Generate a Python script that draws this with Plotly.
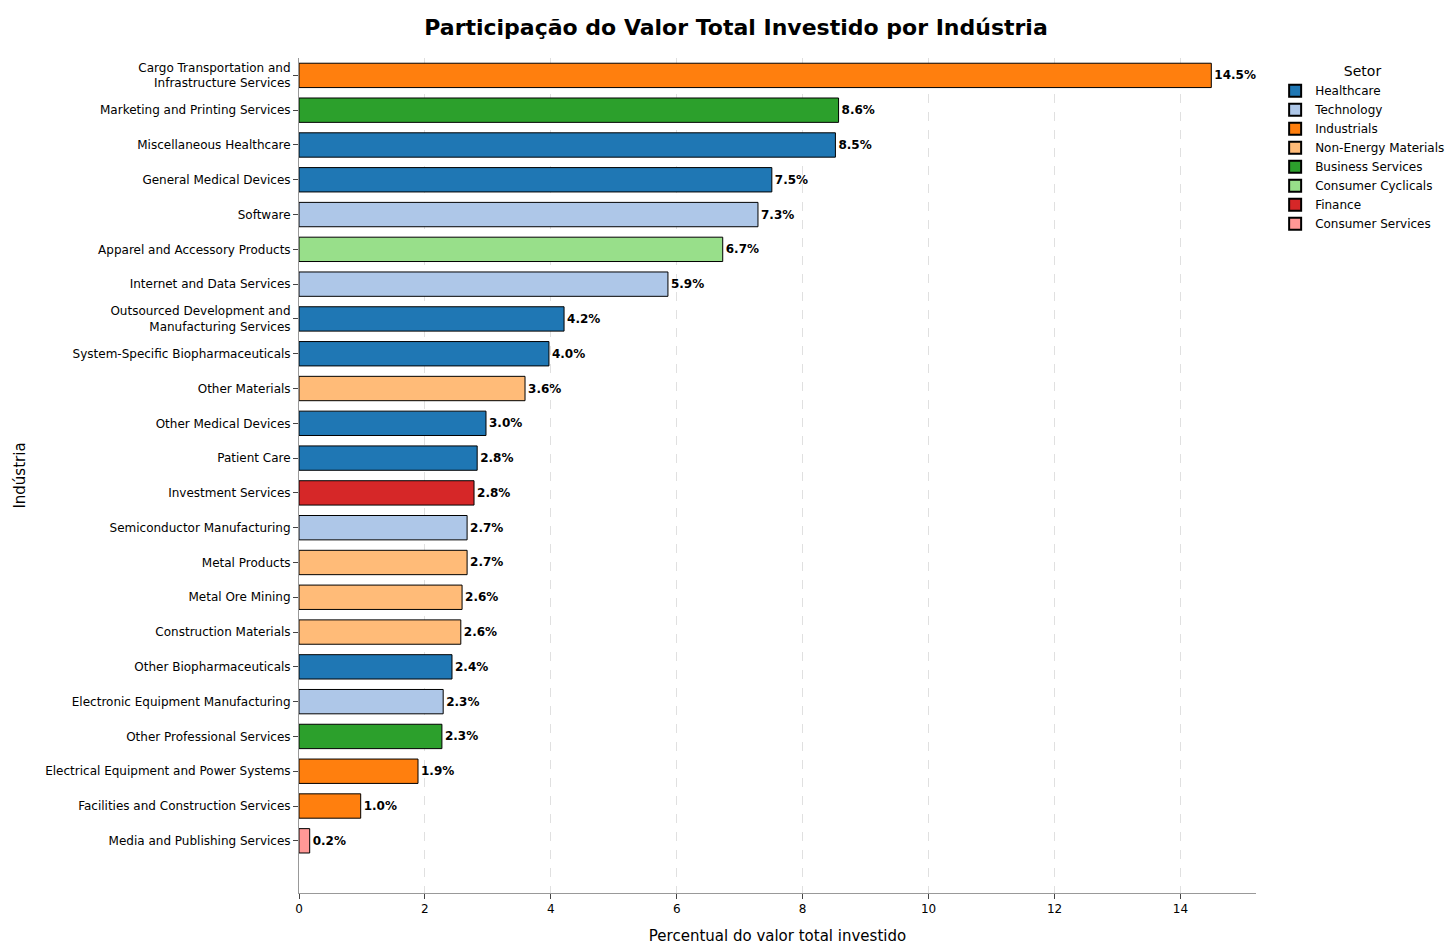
import plotly.graph_objects as go

industries = ["Cargo Transportation and<br>Infrastructure Services","Marketing and Printing Services","Miscellaneous Healthcare",
"General Medical Devices","Software","Apparel and Accessory Products","Internet and Data Services",
"Outsourced Development and<br>Manufacturing Services","System-Specific Biopharmaceuticals","Other Materials",
"Other Medical Devices","Patient Care","Investment Services","Semiconductor Manufacturing","Metal Products",
"Metal Ore Mining","Construction Materials","Other Biopharmaceuticals","Electronic Equipment Manufacturing",
"Other Professional Services","Electrical Equipment and Power Systems","Facilities and Construction Services",
"Media and Publishing Services"]
values = [14.49,8.57,8.52,7.51,7.29,6.73,5.86,4.21,3.97,3.59,2.97,2.83,2.78,2.67,2.67,2.59,2.57,2.43,2.29,2.27,1.89,0.98,0.17]
sectors = ["Industrials","Business Services","Healthcare","Healthcare","Technology","Consumer Cyclicals","Technology",
"Healthcare","Healthcare","Non-Energy Materials","Healthcare","Healthcare","Finance","Technology","Non-Energy Materials",
"Non-Energy Materials","Non-Energy Materials","Healthcare","Technology","Business Services","Industrials","Industrials",
"Consumer Services"]
sector_order = ["Healthcare","Technology","Industrials","Non-Energy Materials","Business Services","Consumer Cyclicals","Finance","Consumer Services"]
colors = {"Healthcare":"#1f77b4","Technology":"#aec7e8","Industrials":"#ff7f0e","Non-Energy Materials":"#ffbb78",
"Business Services":"#2ca02c","Consumer Cyclicals":"#98df8a","Finance":"#d62728","Consumer Services":"#ff9896"}

fig = go.Figure()
for s in sector_order:
    ys = [i for i, sec in zip(industries, sectors) if sec == s]
    xs = [v for v, sec in zip(values, sectors) if sec == s]
    fig.add_trace(go.Bar(x=xs, y=ys, orientation="h", name=s, width=0.7,
        marker=dict(color=colors[s], line=dict(color="black", width=1)),
        text=[f"{v:.1f}%" for v in xs], textposition="outside", cliponaxis=False,
        textfont=dict(family="DejaVu Sans", size=12, color="black", weight="bold")))

fig.update_layout(
    width=1456, height=946, barmode="overlay", plot_bgcolor="white", paper_bgcolor="white",
    font=dict(family="DejaVu Sans", size=12, color="black"),
    margin=dict(l=290, r=208, t=50, b=53),
    title=dict(text="<b>Participação do Valor Total Investido por Indústria</b>", x=0.5, xanchor="center",
               y=0.98, yanchor="middle", font=dict(size=22)),
    legend=dict(title=dict(text="Setor", side="top center", font=dict(size=14)), x=1.02, y=1.0, xanchor="left", yanchor="top",
                font=dict(size=12), tracegroupgap=0, itemsizing="constant"),
    xaxis=dict(range=[0, 15.2], dtick=2, showgrid=True, gridcolor="#e0e0e0", griddash="dash",
               showline=True, linecolor="#999", ticks="outside", zeroline=False,
               title=dict(text="Percentual do valor total investido", font=dict(size=15))),
    yaxis=dict(categoryorder="array", categoryarray=industries[::-1], range=[-1.5, 22.5],
               showline=True, linecolor="#999", ticks="outside", showgrid=False,
               title=dict(text="Indústria", font=dict(size=15))),
)
fig.write_html("out.html")
